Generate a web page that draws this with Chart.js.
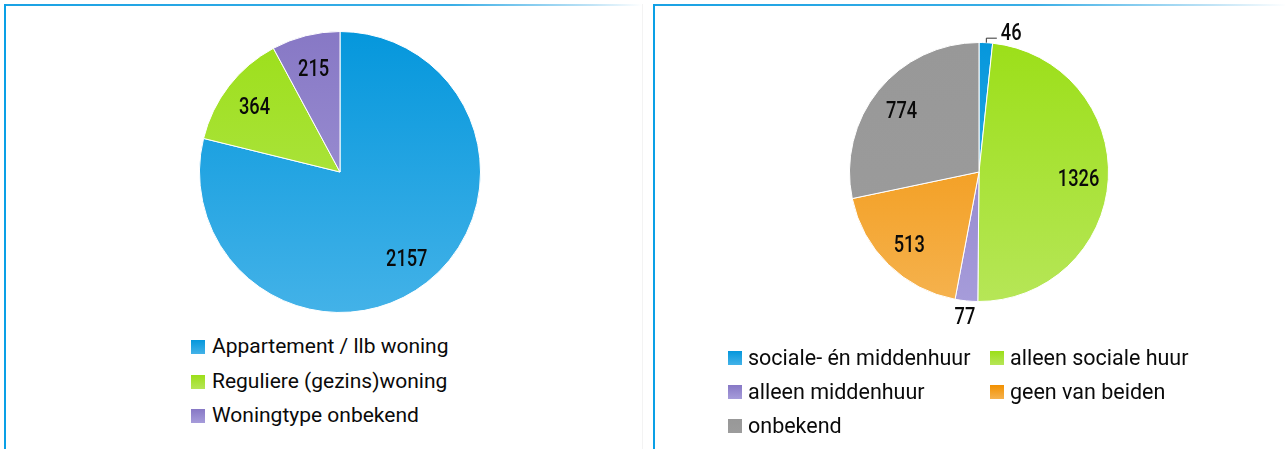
<!DOCTYPE html>
<html lang="nl">
<head>
<meta charset="utf-8">
<title>Woningtype en huursegment</title>
<script src="https://cdn.jsdelivr.net/npm/chart.js@4.4.1/dist/chart.umd.min.js"></script>
<style>
  html, body { margin: 0; padding: 0; background: #fff; }
  body { width: 1285px; height: 449px; position: relative; overflow: hidden; font-family: Roboto, "Noto Sans", sans-serif; color: #0a0a0a; }
  .panel { position: absolute; top: 4px; height: 460px; border-left: 2px solid #0aa0e6; }
  .panel .topline { position: absolute; left: 0; top: 0; height: 2px; }
  #panelWoning { left: 4px; width: 636px; border-right: 1px solid #f3f3f3; }
  #panelWoning .topline { width: 636px; background: linear-gradient(to right, #1aa2e4 0%, #3aaee6 70%, #bfe3f6 92%, #ffffff 100%); }
  #panelHuur { left: 653px; width: 640px; }
  #panelHuur .topline { width: 632px; background: linear-gradient(to right, #1aa2e4 0%, #3aaee6 60%, #bfe3f6 88%, #ffffff 100%); }
  canvas { position: absolute; }
  #woningChart { left: 190px; top: 22px; }
  #huurChart { left: 819px; top: 12px; }
  .legend { position: absolute; display: grid; align-items: center; white-space: nowrap; }
  .legend .item { display: flex; align-items: center; }
  .legend .box { width: 14px; height: 14px; flex: none; position: relative; top: 1px; }
  #woningLegend { left: 191px; top: 329px; grid-auto-rows: 34.5px; font-size: 21px; }
  #woningLegend .box { margin-right: 7px; }
  #huurLegend { left: 728px; top: 340px; grid-template-columns: 262px auto; grid-auto-rows: 34px; font-size: 21.5px; }
  #huurLegend .box { margin-right: 6px; }
</style>
</head>
<body>
<div class="panel" id="panelWoning"><div class="topline"></div></div>
<div class="panel" id="panelHuur"><div class="topline"></div></div>

<canvas id="woningChart" width="300" height="300"></canvas>
<canvas id="huurChart" width="320" height="330"></canvas>
<div class="legend" id="woningLegend"></div>
<div class="legend" id="huurLegend"></div>

<script>
// Woningtype
const woningLabels = ['Appartement / llb woning', 'Reguliere (gezins)woning', 'Woningtype onbekend'];
const woningValues = [2157, 364, 215];

// Huursegment
const huurLabels = ['sociale- én middenhuur', 'alleen sociale huur', 'alleen middenhuur', 'geen van beiden', 'onbekend'];
const huurValues = [46, 1326, 77, 513, 774];

// Slice colours: top and bottom stop of the vertical gradient
const BLUE = ['#0597dc', '#43b2e8'];
const GREEN = ['#9cdf19', '#b6e657'];
const PURPLE = ['#8778c5', '#a69cda'];
const ORANGE = ['#f29000', '#f5b24e'];
const GREY = ['#989898', '#9c9c9c'];

const woningColors = [BLUE, GREEN, PURPLE];
const huurColors = [BLUE, GREEN, PURPLE, ORANGE, GREY];

function sliceFill(colors) {
  return (ctx) => {
    const pair = colors[ctx.dataIndex];
    const area = ctx.chart.chartArea;
    if (!area) return pair[0];
    const cy = (area.top + area.bottom) / 2;
    const r = Math.min(area.right - area.left, area.bottom - area.top) / 2;
    const g = ctx.chart.ctx.createLinearGradient(0, cy - r, 0, cy + r);
    g.addColorStop(0, pair[0]);
    g.addColorStop(1, pair[1]);
    return g;
  };
}

// Value labels: inside the slice, or outside for very thin slices
const sliceLabels = {
  id: 'sliceLabels',
  afterDatasetsDraw(chart, args, opts) {
    const ctx = chart.ctx;
    const meta = chart.getDatasetMeta(0);
    const values = chart.data.datasets[0].data;
    const total = values.reduce((a, b) => a + b, 0);
    const size = opts.fontSize;
    ctx.save();
    ctx.fillStyle = '#0a0a0a';
    ctx.strokeStyle = '#333';
    ctx.lineWidth = 1;
    ctx.font = '500 ' + size + 'px Roboto';
    ctx.textBaseline = 'alphabetic';

    const put = (text, x, y, align) => {
      ctx.save();
      ctx.translate(x, y);
      ctx.scale(opts.squeeze, 1);
      ctx.textAlign = align;
      ctx.fillText(text, 0, size * 0.355);
      ctx.restore();
    };

    meta.data.forEach((arc, i) => {
      const p = arc.getProps(['x', 'y', 'startAngle', 'endAngle', 'outerRadius'], true);
      const mid = (p.startAngle + p.endAngle) / 2;
      const cx = Math.cos(mid), sy = Math.sin(mid);
      const text = String(values[i]);
      if (values[i] / total >= opts.insideMin) {
        const d = p.outerRadius * opts.inside;
        put(text, p.x + cx * d, p.y + sy * d, 'center');
      } else {
        const ex = p.x + cx * p.outerRadius;
        const ey = p.y + sy * p.outerRadius;
        if (sy < 0 && Math.abs(cx) < 0.5) {
          // elbow leader for a slice at the top of the pie
          ctx.beginPath();
          ctx.moveTo(ex + 0.5, ey);
          ctx.lineTo(ex + 0.5, ey - 4.5);
          ctx.lineTo(ex + 11, ey - 4.5);
          ctx.stroke();
          put(text, ex + 15, ey - 11.5, 'left');
        } else {
          const d = p.outerRadius + 15;
          put(text, p.x + cx * d, p.y + sy * d, 'center');
        }
      }
    });
    ctx.restore();
  }
};

function pieChart(id, labels, values, colors, padding) {
  return new Chart(document.getElementById(id), {
    type: 'pie',
    data: {
      labels: labels,
      datasets: [{
        data: values,
        backgroundColor: sliceFill(colors),
        borderColor: '#ffffff',
        borderWidth: 1
      }]
    },
    options: {
      responsive: false,
      animation: false,
      events: [],
      layout: { padding: padding },
      plugins: {
        legend: { display: false },
        tooltip: { enabled: false },
        sliceLabels: { fontSize: 24, squeeze: 0.76, inside: 0.77, insideMin: 0.04 }
      }
    },
    plugins: [sliceLabels]
  });
}

function htmlLegend(id, labels, colors) {
  const box = document.getElementById(id);
  labels.forEach((label, i) => {
    const item = document.createElement('div');
    item.className = 'item';
    const sw = document.createElement('span');
    sw.className = 'box';
    sw.style.background = 'linear-gradient(to bottom, ' + colors[i][0] + ', ' + colors[i][1] + ')';
    const tx = document.createElement('span');
    tx.textContent = label;
    item.appendChild(sw);
    item.appendChild(tx);
    box.appendChild(item);
  });
}

pieChart('woningChart', woningLabels, woningValues, woningColors, 9);
pieChart('huurChart', huurLabels, huurValues, huurColors, { top: 30, bottom: 40, left: 30, right: 30 });
htmlLegend('woningLegend', woningLabels, woningColors);
htmlLegend('huurLegend', huurLabels, huurColors);
</script>
</body>
</html>
